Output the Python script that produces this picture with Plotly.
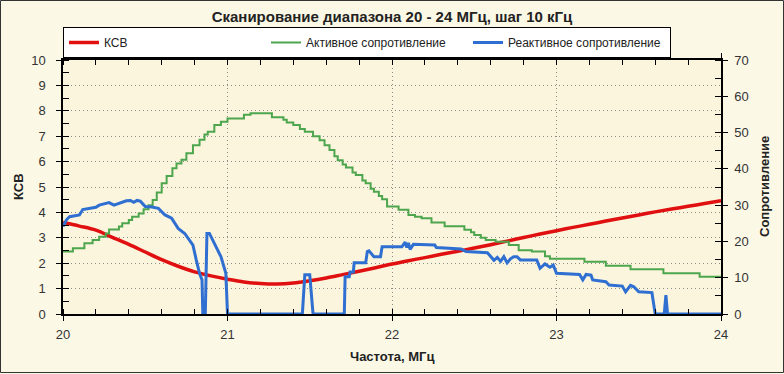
import plotly.graph_objects as go

# ---------------- data ----------------
ksv_freq = [20.0, 20.1, 20.2, 20.3, 20.4, 20.5, 20.6, 20.7, 20.8, 20.9, 21.0,
            21.1, 21.2, 21.3, 21.4, 21.5, 21.6, 21.7, 21.8, 21.9, 22.0,
            22.1, 22.2, 22.3, 22.4, 22.5, 22.6, 22.7, 22.8, 22.9, 23.0,
            23.1, 23.2, 23.3, 23.4, 23.5, 23.6, 23.7, 23.8, 23.9, 24.0]
ksv_vals = [3.60, 3.46, 3.30, 3.02, 2.74, 2.44, 2.14, 1.88, 1.66, 1.50, 1.37,
            1.26, 1.20, 1.18, 1.22, 1.31, 1.42, 1.55, 1.68, 1.82, 1.97,
            2.10, 2.22, 2.35, 2.47, 2.60, 2.73, 2.87, 3.01, 3.15, 3.28,
            3.41, 3.53, 3.66, 3.78, 3.90, 4.02, 4.13, 4.24, 4.35, 4.46]

act_freq = [20.00, 20.06, 20.13, 20.18, 20.22, 20.26, 20.28, 20.34, 20.36, 20.40,
            20.42, 20.46, 20.49, 20.52, 20.545, 20.57, 20.60, 20.63, 20.665, 20.69,
            20.72, 20.75, 20.79, 20.83, 20.86, 20.88, 20.92, 20.96, 21.00, 21.10,
            21.14, 21.27, 21.34, 21.36, 21.40, 21.44, 21.47, 21.52, 21.56, 21.59,
            21.62, 21.65, 21.67, 21.70, 21.72, 21.76, 21.78, 21.82, 21.84, 21.87,
            21.89, 21.92, 21.94, 21.97, 22.04, 22.10, 22.14, 22.18, 22.24, 22.32,
            22.44, 22.48, 22.50, 22.54, 22.57, 22.63, 22.71, 22.77, 22.85, 22.93,
            22.96, 23.17, 23.30, 23.45, 23.65, 23.87, 24.00]
act_vals = [17.2, 18.1, 19.5, 20.4, 21.3, 22.2, 23.3, 24.1, 25.0, 25.9,
            26.8, 27.7, 28.9, 30.0, 31.4, 33.5, 36.0, 38.0, 40.2, 41.5,
            42.5, 44.3, 46.5, 48.0, 49.5, 50.2, 52.1, 53.0, 53.9, 54.9,
            55.3, 54.2, 53.5, 52.8, 52.1, 51.0, 50.2, 49.0, 47.9, 46.5,
            45.2, 43.5, 42.4, 41.2, 40.4, 39.0, 38.3, 36.8, 36.0, 34.5,
            33.7, 32.5, 31.6, 29.6, 28.7, 27.3, 26.8, 26.4, 25.2, 24.2,
            23.2, 22.5, 21.8, 21.0, 20.4, 19.9, 19.0, 17.6, 17.2, 15.9,
            15.2, 14.4, 13.3, 12.3, 11.2, 10.3, 10.1]

react_freq = [20.00, 20.02, 20.04, 20.10, 20.12, 20.20, 20.22, 20.28, 20.31, 20.36,
              20.385, 20.41, 20.43, 20.45, 20.47, 20.50, 20.54, 20.58, 20.62, 20.66,
              20.70, 20.74, 20.79, 20.81, 20.83, 20.845, 20.85, 20.865, 20.875, 20.89,
              20.93, 20.96, 20.99, 21.00, 21.455, 21.47, 21.50, 21.52, 21.71, 21.715,
              21.74, 21.745, 21.765, 21.77, 21.84, 21.85, 21.86, 21.89, 21.93, 21.94,
              22.06, 22.08, 22.09, 22.10, 22.11, 22.13, 22.26, 22.27, 22.42, 22.45,
              22.58, 22.60, 22.62, 22.64, 22.66, 22.68, 22.70, 22.72, 22.74, 22.76,
              22.78, 22.88, 22.90, 22.93, 22.96, 22.98, 23.00, 23.14, 23.16, 23.18,
              23.21, 23.22, 23.30, 23.32, 23.40, 23.42, 23.45, 23.47, 23.50, 23.58,
              23.60, 23.655, 23.665, 23.675, 24.00]
react_vals = [24.1, 25.9, 26.8, 27.3, 28.8, 29.4, 30.0, 30.7, 30.0, 30.7,
              31.2, 31.3, 30.8, 31.3, 31.1, 29.6, 29.5, 29.1, 27.3, 26.4,
              23.6, 22.2, 19.0, 14.9, 11.2, 9.4, 0.0, 0.0, 22.2, 22.2,
              18.5, 15.8, 11.2, 0.0, 0.0, 10.8, 10.8, 0.0, 0.0, 10.3,
              10.3, 11.6, 11.6, 14.1, 14.1, 17.2, 17.4, 15.8, 15.8, 18.5,
              18.5, 19.8, 18.3, 19.6, 17.8, 19.2, 19.0, 18.3, 17.9, 17.2,
              16.9, 15.8, 14.8, 15.6, 14.5, 15.8, 14.1, 15.2, 15.8, 15.8,
              14.9, 14.9, 12.6, 13.8, 12.9, 13.5, 11.2, 10.9, 9.4, 10.9,
              10.7, 9.4, 8.9, 8.0, 7.7, 6.1, 7.9, 7.5, 6.1, 5.9,
              0.0, 0.0, 5.2, 0.0, 0.0]

x_ticks = [20, 21, 22, 23, 24]
ksv_ticks = list(range(0, 11))
res_ticks = list(range(0, 71, 10))

title_text = "Сканирование диапазона 20 - 24 МГц, шаг 10 кГц"
x_title = "Частота, МГц"
y_title = "КСВ"
y2_title = "Сопротивление"
names = ["КСВ", "Активное сопротивление", "Реактивное сопротивление"]

# ---------------- figure ----------------
FONT = "Liberation Sans, Arial, sans-serif"
W, H = 784, 374
ML, MR, MT, MB = 63, 63, 60, 60
PW, PH = W - ML - MR, H - MT - MB

fig = go.Figure()

fig.add_trace(go.Scatter(x=act_freq, y=act_vals, name=names[1], yaxis="y2",
                         mode="lines", line=dict(color="#4DA64D", width=2, shape="hv"),
                         legendrank=2))
fig.add_trace(go.Scatter(x=react_freq, y=react_vals, name=names[2], yaxis="y2",
                         mode="lines", line=dict(color="#2F6FD2", width=3),
                         legendrank=3))
fig.add_trace(go.Scatter(x=ksv_freq, y=ksv_vals, name=names[0], yaxis="y",
                         mode="lines", line=dict(color="#E01010", width=3.5, shape="spline"),
                         legendrank=1))
# empty traces that carry the overlay axes used for the inner half of crossing ticks
fig.add_trace(go.Scatter(x=[None], y=[None], xaxis="x2", yaxis="y3",
                         showlegend=False, hoverinfo="skip"))
fig.add_trace(go.Scatter(x=[None], y=[None], xaxis="x2", yaxis="y4",
                         showlegend=False, hoverinfo="skip"))

tickfont = dict(family=FONT, size=13, color="#333333")
gridkw = dict(showgrid=True, gridcolor="#8a8a8a", gridwidth=1, griddash="1px,3px")

fig.update_layout(
    width=W, height=H,
    margin=dict(l=ML, r=MR, t=MT, b=MB, autoexpand=False),
    paper_bgcolor="#FCF8E6",
    plot_bgcolor="#FBF5DD",
    showlegend=True,
    title=dict(text=title_text, x=0.5, xanchor="center", xref="paper",
               y=1 - 17 / H, yref="container", yanchor="middle",
               font=dict(family=FONT, size=15, color="#222222", weight="bold")),
    legend=dict(orientation="h", x=0, xanchor="left", y=1 + 2 / PH, yanchor="bottom",
                bgcolor="#FFFFFF", bordercolor="#000000", borderwidth=1,
                entrywidth=157, entrywidthmode="pixels",
                font=dict(family=FONT, size=12, color="#222222"),
                tracegroupgap=0, itemwidth=30),
    xaxis=dict(range=[20, 24], tickvals=x_ticks, ticks="outside", ticklen=5,
               tickwidth=1, tickcolor="#000", showline=True, linecolor="#000",
               linewidth=1.5, mirror="allticks", zeroline=False,
               tickfont=tickfont, ticklabelstandoff=3,
               minor=dict(dtick=0.2, ticks="inside", ticklen=5, tickcolor="#000",
                          showgrid=False),
               **gridkw),
    xaxis2=dict(range=[20, 24], overlaying="x", anchor="y", tickvals=x_ticks,
                ticks="inside", ticklen=5, tickcolor="#000", showticklabels=False,
                showgrid=False, zeroline=False, showline=False, mirror="allticks"),
    yaxis=dict(range=[0, 10], tickvals=ksv_ticks, ticks="outside", ticklen=5,
               tickwidth=1, tickcolor="#000", showline=True, linecolor="#000",
               linewidth=1.5, zeroline=False, tickfont=tickfont, ticklabelstandoff=8,
               minor=dict(dtick=0.5, ticks="inside", ticklen=6, tickcolor="#000",
                          showgrid=False),
               **gridkw),
    yaxis2=dict(range=[0, 70], overlaying="y", side="right", anchor="x",
                tickvals=res_ticks, ticks="outside", ticklen=5, tickcolor="#000",
                showline=True, linecolor="#000", linewidth=1.5, zeroline=False,
                showgrid=False, tickfont=tickfont, ticklabelstandoff=4,
                minor=dict(dtick=5, ticks="inside", ticklen=6, tickcolor="#000")),
    yaxis3=dict(range=[0, 10], overlaying="y", side="left", anchor="x",
                tickvals=ksv_ticks, ticks="inside", ticklen=5, tickcolor="#000",
                showticklabels=False, showgrid=False, zeroline=False, showline=False),
    yaxis4=dict(range=[0, 70], overlaying="y", side="right", anchor="x",
                tickvals=res_ticks, ticks="inside", ticklen=5, tickcolor="#000",
                showticklabels=False, showgrid=False, zeroline=False, showline=False),
    annotations=[
        dict(text=y_title, textangle=-90, xref="paper", yref="paper",
             x=(18 - ML) / PW, y=0.5, xanchor="center", yanchor="middle",
             showarrow=False, font=dict(family=FONT, size=13, color="#222222", weight="bold")),
        dict(text=y2_title, textangle=-90, xref="paper", yref="paper",
             x=(764 - ML) / PW, y=0.5, xanchor="center", yanchor="middle",
             showarrow=False, font=dict(family=FONT, size=13, color="#222222", weight="bold")),
        dict(text=x_title, xref="paper", yref="paper",
             x=0.5, y=(MT + PH - 356) / PH, xanchor="center", yanchor="middle",
             showarrow=False, font=dict(family=FONT, size=13, color="#222222", weight="bold")),
    ],
    shapes=[
        dict(type="rect", xref="paper", yref="paper", layer="above",
             x0=(0.5 - ML) / PW, x1=(W - 0.5 - ML) / PW,
             y0=(MT + PH - (H - 1.5)) / PH, y1=(MT + PH - 0.5) / PH,
             line=dict(color="#333333", width=1), fillcolor="rgba(0,0,0,0)"),
    ],
)

fig.write_html("out.html", config={"displayModeBar": False},
               post_script="document.body.style.margin='0';document.body.style.overflow='hidden';")
